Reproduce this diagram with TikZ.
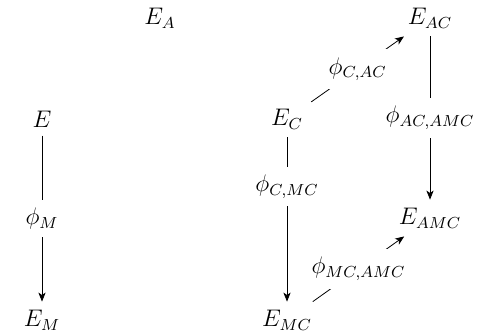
\documentclass[tikz,border=0pt,12pt]{standalone}
\usetikzlibrary{arrows.meta}
\begin{document}
\begin{tikzpicture}[x=0.5pt,y=-0.5pt,
  obj/.style={},
  lbl/.style={fill=white},
  arr/.style={-{Stealth[length=4.5pt,width=3.6pt,inset=1.2pt]}, line width=0.4pt}]
\useasboundingbox (0,0) rectangle (491,333);
\node[obj] (EA) at (160,18) {$E_A$};
\node[obj] (EAC) at (430,18) {$E_{AC}$};
\node[obj] (E) at (42,119) {$E$};
\node[obj] (EC) at (287,119) {$E_C$};
\node[obj] (EM) at (42,320) {$E_M$};
\node[obj] (EMC) at (287,320) {$E_{MC}$};
\node[obj] (EAMC) at (430,218) {$E_{AMC}$};
\draw[arr] (E) -- node[lbl] {$\phi_M$} (EM);
\draw[arr] (EC) -- node[lbl, pos=0.3] {$\phi_{C,MC}$} (EMC);
\draw[arr] (EC) -- node[lbl] {$\phi_{C,AC}$} (EAC);
\draw[arr] (EAC) -- node[lbl] {$\phi_{AC,AMC}$} (EAMC);
\draw[arr] (EMC) -- node[lbl] {$\phi_{MC,AMC}$} (EAMC);
\end{tikzpicture}
\end{document}
